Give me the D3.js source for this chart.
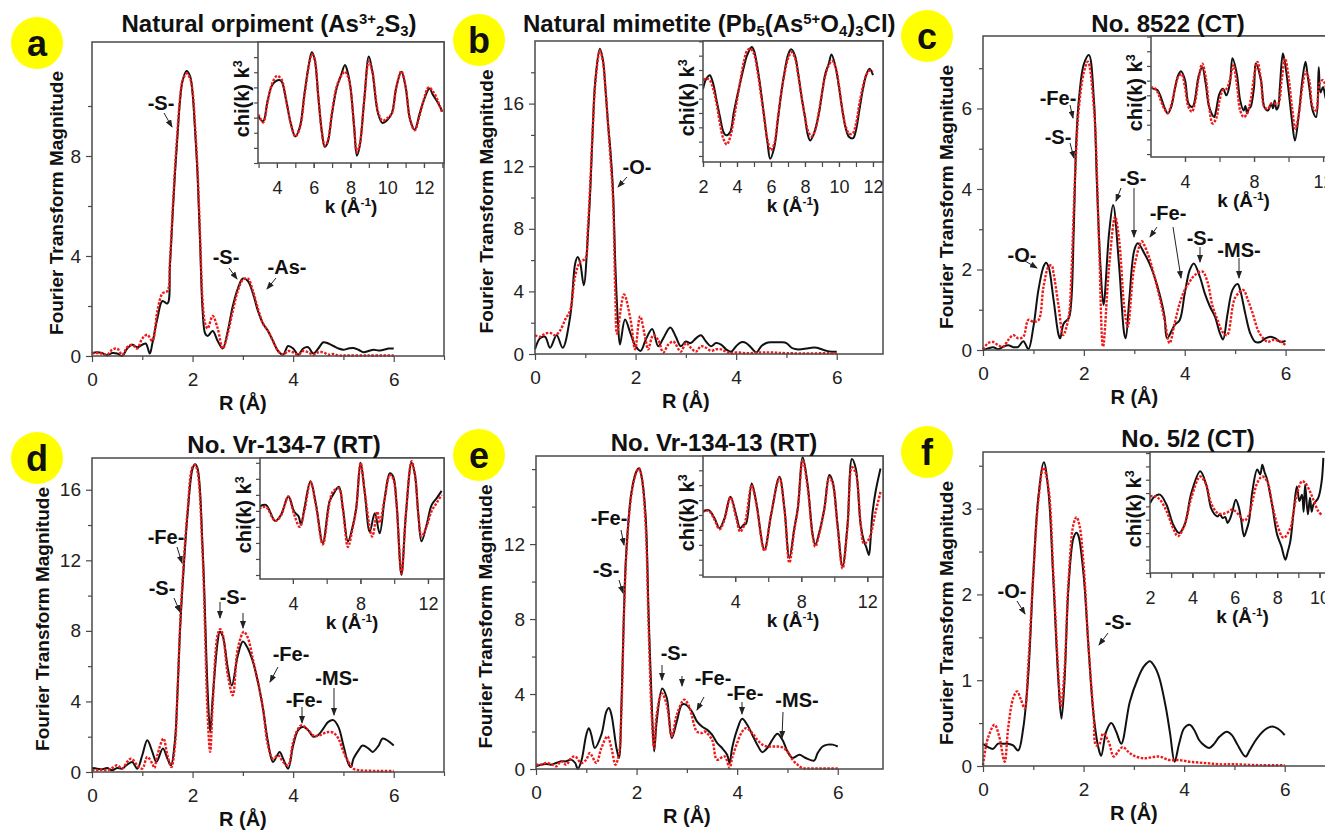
<!DOCTYPE html>
<meta charset="utf-8">
<style>
body { margin: 0; background: #fff; }
svg { display: block; font-family: Arial, "Liberation Sans", sans-serif; }
.frame { fill: none; stroke: #4a4a4a; stroke-width: 1.5px; }
.inset-bg { fill: #fff; }
.tick line { stroke: #4a4a4a; stroke-width: 1.2px; }
.exp { fill: none; stroke: #111; stroke-width: 2px; }
.fit { fill: none; stroke: #f01818; stroke-width: 2.4px; stroke-dasharray: 2.5,1.5; }
.lbl { font-weight: bold; fill: #111; }
.note { font-weight: bold; font-size: 20px; fill: #111; text-anchor: middle; }
.arrow { stroke: #222; stroke-width: 1px; }
</style>
<svg width="1325" height="830"></svg>
<script src="https://d3js.org/d3.v7.min.js"></script>
<script>

// ---- Fourier transform magnitude vs R (black = experiment, red = fit) ----
var orpimentExp = [[0,0.12],[0.1,0.15],[0.2,0.12],[0.3,0.03],[0.4,0.12],[0.5,0.1],[0.6,0.0],[0.7,0.3],[0.8,0.45],[0.9,0.35],[1.0,0.45],[1.07,0.5],[1.15,0.1],[1.2,0.5],[1.3,1.5],[1.4,2.2],[1.5,2.1],[1.55,3.6],[1.6,5.5],[1.65,7.3],[1.7,8.8],[1.75,10.2],[1.8,11.0],[1.88,11.4],[1.95,11.2],[2.0,10.5],[2.05,9.0],[2.1,7.2],[2.15,4.5],[2.2,1.8],[2.25,0.9],[2.3,0.8],[2.4,1.0],[2.5,0.6],[2.6,0.3],[2.7,1.0],[2.8,2.0],[2.9,2.7],[3.0,3.1],[3.1,3.0],[3.2,2.5],[3.3,1.8],[3.4,1.3],[3.5,1.0],[3.6,0.6],[3.7,0.2],[3.8,0.05],[3.9,0.4],[4.0,0.3],[4.1,0.05],[4.2,0.3],[4.3,0.35],[4.4,0.1],[4.5,0.3],[4.6,0.55],[4.7,0.5],[4.8,0.4],[4.9,0.3],[5.0,0.25],[5.1,0.3],[5.2,0.32],[5.3,0.25],[5.4,0.15],[5.5,0.2],[5.6,0.25],[5.7,0.22],[5.8,0.25],[5.9,0.3],[6.0,0.3]];
var orpimentFit = [[0,0.1],[0.1,0.12],[0.2,0.1],[0.3,0.05],[0.4,0.25],[0.5,0.3],[0.6,0.05],[0.7,0.35],[0.8,0.45],[0.9,0.3],[1.0,0.7],[1.1,0.85],[1.2,0.6],[1.3,1.8],[1.4,2.5],[1.5,2.6],[1.55,3.8],[1.6,5.7],[1.65,7.5],[1.7,9.0],[1.75,10.3],[1.8,11.0],[1.88,11.3],[1.95,11.1],[2.0,10.6],[2.05,9.2],[2.1,7.4],[2.15,4.8],[2.2,2.2],[2.25,1.3],[2.3,1.1],[2.4,1.6],[2.5,1.1],[2.6,0.3],[2.7,0.9],[2.8,1.8],[2.9,2.6],[3.0,3.05],[3.1,3.1],[3.2,2.6],[3.3,1.9],[3.4,1.3],[3.5,1.0],[3.6,0.6],[3.7,0.2],[3.8,0.05],[3.9,0.2],[4.0,0.15],[4.1,0.05],[4.2,0.2],[4.3,0.15],[4.4,0.05],[4.5,0.15],[4.6,0.15],[4.7,0.05],[4.8,0.08],[4.9,0.02],[5.0,0.02],[5.5,0.02],[6.0,0.02]];

var mimetiteExp = [[0,0.3],[0.1,1.0],[0.2,1.1],[0.3,0.4],[0.43,1.2],[0.55,0.4],[0.7,2.4],[0.8,5.8],[0.85,6.2],[0.9,5.8],[0.97,4.4],[1.05,7.5],[1.1,10.5],[1.15,14.5],[1.2,17.5],[1.29,19.5],[1.35,18.8],[1.4,17.0],[1.45,14.8],[1.5,13.0],[1.55,10.5],[1.6,5.5],[1.65,2.0],[1.69,0.6],[1.79,2.2],[1.9,1.3],[2.0,0.5],[2.1,0.2],[2.2,0.9],[2.33,1.6],[2.45,0.5],[2.55,1.0],[2.69,1.7],[2.8,1.1],[2.9,0.5],[3.0,0.8],[3.1,0.7],[3.2,1.0],[3.3,1.2],[3.4,0.8],[3.5,0.5],[3.6,0.7],[3.7,0.6],[3.8,0.3],[3.9,0.15],[4.0,0.5],[4.1,0.75],[4.2,0.7],[4.3,0.4],[4.4,0.1],[4.5,0.5],[4.6,0.7],[4.7,0.75],[4.8,0.75],[4.9,0.75],[5.0,0.7],[5.1,0.4],[5.2,0.3],[5.3,0.3],[5.4,0.35],[5.5,0.4],[5.6,0.4],[5.7,0.3],[5.8,0.2],[5.9,0.15],[6.0,0.15]];
var mimetiteFit = [[0,1.2],[0.1,1.1],[0.2,1.3],[0.3,1.35],[0.4,1.2],[0.5,1.5],[0.6,2.2],[0.7,2.8],[0.8,5.0],[0.9,5.9],[1.0,6.1],[1.05,8.0],[1.1,11.0],[1.15,14.5],[1.2,17.3],[1.29,19.4],[1.35,18.7],[1.4,17.0],[1.45,14.8],[1.5,12.5],[1.55,10.0],[1.6,3.5],[1.63,1.3],[1.77,3.8],[1.9,2.2],[1.99,0.3],[2.09,2.4],[2.2,0.9],[2.25,0.3],[2.35,1.2],[2.45,0.9],[2.55,0.1],[2.65,0.6],[2.75,0.8],[2.9,0.15],[3.0,0.7],[3.1,0.4],[3.2,0.15],[3.3,0.5],[3.4,0.4],[3.5,0.2],[3.6,0.3],[3.7,0.3],[3.8,0.15],[3.9,0.05],[4.0,0.1],[4.2,0.05],[4.5,0.1],[4.7,0.1],[5.0,0.05],[6.0,0.05]];

var ct8522Exp = [[0,0],[0.1,0.04],[0.2,0.07],[0.3,0.02],[0.4,0.08],[0.5,0.12],[0.6,0.07],[0.7,0.08],[0.8,0.22],[0.9,0.02],[1.0,0.58],[1.1,1.5],[1.2,2.07],[1.25,2.17],[1.3,2.07],[1.4,1.24],[1.5,0.37],[1.53,0.29],[1.6,0.66],[1.7,0.79],[1.75,1.2],[1.8,3.0],[1.85,5.2],[1.9,6.2],[2.0,7.1],[2.1,7.33],[2.2,6.2],[2.26,4.1],[2.33,2.07],[2.39,1.12],[2.5,2.9],[2.58,3.6],[2.7,2.07],[2.8,0.41],[2.83,0.29],[2.9,1.24],[3.0,2.48],[3.07,2.65],[3.2,2.4],[3.3,2.15],[3.4,1.82],[3.5,1.4],[3.6,0.83],[3.65,0.29],[3.8,0.62],[3.9,0.74],[4.0,1.4],[4.1,1.99],[4.18,2.15],[4.3,1.82],[4.4,1.4],[4.5,1.08],[4.6,0.83],[4.7,0.41],[4.76,0.26],[4.85,0.9],[4.95,1.5],[5.05,1.64],[5.1,1.49],[5.2,0.91],[5.3,0.41],[5.4,0.2],[5.5,0.2],[5.6,0.29],[5.7,0.33],[5.8,0.29],[5.9,0.2],[6.0,0.23]];
var ct8522Fit = [[0,0.02],[0.1,0.17],[0.2,0.2],[0.3,0.12],[0.4,0.08],[0.5,0.25],[0.6,0.37],[0.7,0.29],[0.8,0.33],[0.9,0.75],[1.0,0.7],[1.1,0.74],[1.2,1.57],[1.3,2.07],[1.36,2.1],[1.4,1.9],[1.5,1.08],[1.59,0.37],[1.7,0.83],[1.75,1.8],[1.8,3.5],[1.85,5.0],[1.9,6.0],[2.0,6.9],[2.08,7.16],[2.2,6.0],[2.3,2.7],[2.38,0.08],[2.5,2.07],[2.62,3.31],[2.7,2.73],[2.8,1.08],[2.87,0.58],[3.0,2.07],[3.15,2.7],[3.2,2.6],[3.3,2.28],[3.4,1.82],[3.5,1.32],[3.6,0.75],[3.7,0.17],[3.8,0.66],[3.9,1.16],[4.0,1.49],[4.1,1.7],[4.2,1.86],[4.35,1.95],[4.45,1.7],[4.55,1.1],[4.65,0.75],[4.75,0.45],[4.84,0.37],[5.0,1.3],[5.16,1.49],[5.25,1.25],[5.35,0.9],[5.45,0.5],[5.55,0.3],[5.65,0.2],[5.75,0.25],[5.85,0.23],[5.95,0.17],[6.0,0.12]];

var vr1347Exp = [[0,0.23],[0.1,0.19],[0.2,0.15],[0.3,0.23],[0.4,0.1],[0.5,0.23],[0.6,0.19],[0.7,0.42],[0.8,0.57],[0.9,0.19],[1.0,0.95],[1.1,1.8],[1.2,1.14],[1.28,0.57],[1.41,1.33],[1.5,0.76],[1.57,0.38],[1.65,1.8],[1.7,4.5],[1.75,8.0],[1.8,10.5],[1.9,14.6],[2.0,17.2],[2.05,17.45],[2.1,17.2],[2.2,12.7],[2.3,4.6],[2.35,2.27],[2.4,4.2],[2.5,7.4],[2.54,7.95],[2.6,7.7],[2.7,5.9],[2.78,4.9],[2.9,6.6],[3.0,7.4],[3.1,7.0],[3.2,6.25],[3.3,5.1],[3.4,3.6],[3.5,1.7],[3.6,0.57],[3.73,1.14],[3.8,0.76],[3.9,0.19],[4.0,1.5],[4.1,2.37],[4.2,2.56],[4.3,2.37],[4.4,2.0],[4.5,2.1],[4.6,2.46],[4.7,2.84],[4.8,2.94],[4.9,2.56],[5.0,1.5],[5.1,0.47],[5.15,0.28],[5.2,0.76],[5.3,1.23],[5.38,1.5],[5.5,1.33],[5.58,1.14],[5.7,1.5],[5.78,1.9],[5.9,1.74],[6.0,1.5]];
var vr1347Fit = [[0,0.1],[0.1,0.1],[0.2,0.13],[0.3,0.1],[0.4,0.23],[0.5,0.38],[0.6,0.19],[0.7,0.57],[0.78,0.76],[0.9,0.38],[1.0,0.19],[1.1,0.85],[1.2,0.47],[1.24,0.23],[1.3,0.95],[1.42,1.9],[1.5,0.95],[1.58,0.28],[1.65,1.5],[1.7,4.5],[1.75,8.2],[1.8,10.8],[1.9,14.8],[2.0,17.3],[2.05,17.4],[2.1,17.0],[2.2,12.3],[2.3,3.2],[2.35,1.14],[2.4,3.8],[2.5,7.8],[2.55,8.1],[2.6,7.8],[2.7,5.5],[2.8,4.35],[2.9,7.0],[3.02,7.95],[3.1,7.6],[3.2,6.4],[3.3,5.1],[3.4,3.6],[3.5,1.5],[3.6,0.76],[3.7,0.95],[3.8,0.57],[3.9,0.38],[4.0,1.7],[4.1,2.46],[4.17,2.65],[4.3,2.37],[4.4,2.08],[4.5,2.05],[4.6,2.18],[4.7,2.27],[4.8,2.23],[4.9,1.9],[5.0,1.14],[5.1,0.57],[5.2,0.19],[5.3,0.1],[5.4,0.08],[5.7,0.06],[6.0,0.06]];

var vr13413Exp = [[0,0.14],[0.1,0.23],[0.2,0.27],[0.3,0.23],[0.4,0.32],[0.5,0.41],[0.6,0.41],[0.7,0.5],[0.78,0.32],[0.83,0],[0.9,0.41],[1.0,1.83],[1.05,2.18],[1.1,1.83],[1.17,1.12],[1.3,1.83],[1.4,3.07],[1.45,3.25],[1.5,2.9],[1.6,1.12],[1.65,0.59],[1.7,3.5],[1.75,8.5],[1.8,11.8],[1.9,14.8],[2.0,15.9],[2.05,16.04],[2.1,15.6],[2.18,13.5],[2.24,8.2],[2.31,2.9],[2.35,0.94],[2.4,2.54],[2.51,4.3],[2.6,3.8],[2.7,1.65],[2.8,2.54],[2.9,3.43],[2.97,3.45],[3.1,3.07],[3.2,2.54],[3.3,2.27],[3.4,2.1],[3.5,1.83],[3.6,1.39],[3.7,1.12],[3.8,0.76],[3.85,0.32],[3.9,1.12],[4.0,2.1],[4.1,2.68],[4.2,2.36],[4.3,1.83],[4.4,1.3],[4.5,0.9],[4.6,1.12],[4.7,1.56],[4.8,1.88],[4.9,1.56],[5.0,0.94],[5.1,0.59],[5.24,0.76],[5.35,0.6],[5.53,0.45],[5.6,0.85],[5.7,1.2],[5.8,1.3],[5.9,1.3],[6.0,1.2]];
var vr13413Fit = [[0,0.23],[0.1,0.23],[0.2,0.32],[0.3,0.27],[0.4,0.14],[0.5,0.41],[0.6,0.23],[0.7,0.59],[0.78,0.67],[0.9,0.32],[1.0,0.5],[1.07,0.85],[1.2,0.32],[1.3,1.12],[1.42,1.74],[1.5,1.12],[1.58,0.23],[1.65,0.8],[1.7,3.2],[1.75,8.3],[1.8,11.6],[1.9,14.7],[2.0,15.86],[2.05,16.04],[2.1,15.6],[2.18,13.0],[2.24,7.5],[2.3,2.9],[2.35,1.12],[2.4,2.9],[2.5,4.05],[2.6,3.43],[2.7,1.74],[2.8,2.9],[2.95,3.7],[3.05,3.3],[3.2,2.0],[3.3,1.92],[3.35,2.0],[3.5,1.56],[3.6,0.5],[3.75,0.67],[3.85,0.05],[3.9,0.59],[4.0,1.39],[4.1,2.0],[4.18,2.18],[4.3,1.92],[4.4,1.56],[4.5,1.3],[4.6,1.2],[4.7,1.2],[4.8,1.2],[4.9,1.15],[5.0,0.94],[5.1,0.5],[5.2,0.23],[5.3,0.05],[5.5,0.03],[6.0,0.03]];

var no52Exp = [[0,0.26],[0.1,0.22],[0.2,0.2],[0.3,0.26],[0.4,0.26],[0.5,0.26],[0.6,0.24],[0.7,0.18],[0.8,0.44],[0.9,1.06],[1.0,2.23],[1.1,3.13],[1.21,3.54],[1.3,3.21],[1.4,2.15],[1.5,0.98],[1.56,0.55],[1.62,0.98],[1.7,2.08],[1.8,2.66],[1.86,2.72],[1.9,2.68],[2.0,2.23],[2.1,1.37],[2.2,0.59],[2.3,0.2],[2.35,0.12],[2.45,0.4],[2.55,0.5],[2.65,0.4],[2.75,0.26],[2.92,0.75],[3.08,1.02],[3.2,1.16],[3.32,1.22],[3.42,1.15],[3.51,1.02],[3.64,0.67],[3.72,0.38],[3.81,0.05],[3.9,0.26],[4.0,0.44],[4.11,0.48],[4.2,0.42],[4.3,0.3],[4.4,0.24],[4.5,0.21],[4.6,0.26],[4.7,0.34],[4.85,0.4],[4.95,0.36],[5.05,0.26],[5.22,0.11],[5.3,0.18],[5.4,0.28],[5.5,0.36],[5.6,0.42],[5.75,0.46],[5.9,0.42],[6.0,0.36]];
var no52Fit = [[0,0.01],[0.1,0.33],[0.23,0.48],[0.32,0.35],[0.43,0.05],[0.5,0.44],[0.6,0.79],[0.68,0.87],[0.75,0.78],[0.83,0.67],[0.9,1.18],[1.0,2.23],[1.1,3.09],[1.2,3.48],[1.3,3.25],[1.4,2.23],[1.5,1.06],[1.55,0.69],[1.62,1.1],[1.7,2.15],[1.8,2.82],[1.86,2.9],[1.92,2.8],[2.0,2.35],[2.1,1.37],[2.2,0.59],[2.25,0.24],[2.32,0.26],[2.39,0.38],[2.5,0.28],[2.6,0.11],[2.7,0.18],[2.78,0.22],[2.9,0.16],[3.0,0.12],[3.2,0.09],[3.5,0.11],[3.7,0.07],[3.9,0.07],[4.1,0.05],[4.3,0.04],[4.5,0.03],[4.7,0.02],[5.0,0.02],[5.5,0.01],[6.0,0.01]];

// ---- inset chi(k) k^3 vs k ----
var orpimentChiExp = [[3.0,-2.3],[3.25,-3.1],[3.5,0.4],[3.75,2.9],[4.1,3.7],[4.25,3.5],[4.5,0.4],[4.75,-3.4],[5.0,-5.6],[5.25,-4],[5.5,1.5],[5.75,6.5],[5.9,8.3],[6.05,7.2],[6.25,1],[6.45,-5],[6.6,-7.3],[6.75,-6.7],[7.0,-1.8],[7.25,2.4],[7.5,4.6],[7.7,6.2],[7.85,5.0],[8.0,2.6],[8.2,-4],[8.35,-8.8],[8.5,-7.3],[8.75,0.4],[9.0,7.6],[9.2,5.0],[9.5,-1.8],[9.75,-3.4],[10.0,-2.9],[10.25,-1.8],[10.5,2.6],[10.77,5.1],[11.0,2.6],[11.25,-2.9],[11.5,-4.5],[11.75,-2],[12.0,0.4],[12.3,2.3],[12.5,1.2],[12.75,0],[13.0,-1.5]];
var orpimentChiFit = [[3.0,-2.0],[3.25,-3.3],[3.5,0.2],[3.75,3.2],[4.0,4.4],[4.25,3.8],[4.5,0.4],[4.75,-3.4],[5.0,-5.6],[5.25,-4.2],[5.5,1.2],[5.75,6.3],[5.9,8.0],[6.05,7.2],[6.25,1],[6.45,-5],[6.6,-7.1],[6.75,-6.5],[7.0,-1.5],[7.25,2.6],[7.5,4.4],[7.7,5.1],[7.85,4.4],[8.0,2.4],[8.2,-4],[8.35,-8.2],[8.5,-7.0],[8.75,0.4],[9.0,6.8],[9.2,5.0],[9.5,-1.5],[9.75,-3.0],[10.0,-2.6],[10.25,-1.8],[10.5,2.6],[10.77,5.2],[11.0,2.6],[11.25,-2.9],[11.5,-4.6],[11.75,-2.3],[12.0,0.6],[12.25,2.5],[12.5,1.8],[12.75,0.3],[13.0,-1.8]];

var mimetiteChiExp = [[2.0,1.7],[2.2,3.5],[2.4,4.1],[2.6,2.6],[2.8,-0.3],[3.0,-3.2],[3.2,-5.8],[3.35,-6.4],[3.6,-5.8],[3.8,-2.6],[4.0,0.3],[4.2,2.9],[4.4,5.5],[4.6,7.6],[4.87,9.0],[5.0,8.4],[5.2,5.5],[5.4,1.5],[5.6,-3.2],[5.8,-7.8],[5.95,-10.5],[6.2,-8.4],[6.4,-3.8],[6.6,0.9],[6.8,4.7],[7.0,7.6],[7.18,8.6],[7.4,7.6],[7.6,4.4],[7.8,0.3],[8.0,-3.2],[8.15,-6.1],[8.3,-7.3],[8.5,-6.3],[8.8,-2.9],[9.0,0.9],[9.2,4.4],[9.4,6.1],[9.56,7.7],[9.8,5.5],[10.0,2.0],[10.2,-2.0],[10.4,-5.2],[10.6,-6.7],[10.83,-6.9],[11.0,-5.5],[11.2,-2.0],[11.4,1.5],[11.6,4.1],[11.8,5.2],[12.0,4.1]];
var mimetiteChiFit = [[2.0,3.2],[2.2,3.5],[2.4,3.2],[2.6,1.7],[2.8,-0.9],[3.0,-4.4],[3.2,-7],[3.4,-8],[3.6,-6.7],[3.8,-3.8],[4.0,-0.3],[4.2,3.2],[4.4,6.4],[4.6,8.4],[4.8,8.7],[5.0,7.8],[5.2,4.9],[5.4,0.9],[5.6,-3.2],[5.8,-7.3],[6.0,-9],[6.2,-7.8],[6.4,-3.5],[6.6,0.9],[6.8,4.4],[7.0,7],[7.2,8.1],[7.4,7.2],[7.6,4.1],[7.8,0.3],[8.0,-3.2],[8.2,-5.8],[8.4,-6.6],[8.6,-5.5],[8.8,-2.6],[9.0,0.9],[9.2,4.1],[9.4,5.8],[9.6,6.6],[9.8,5.5],[10.0,2.3],[10.2,-2],[10.4,-4.9],[10.6,-6.1],[10.8,-6.1],[11.0,-4.4],[11.2,-0.9],[11.4,2.0],[11.6,4.1],[11.8,4.9],[12.0,4.7]];

var ct8522ChiExp = [[2.0,1.3],[2.2,1.1],[2.4,0.9],[2.6,-0.3],[2.8,-2.0],[3.0,-3.1],[3.2,-2],[3.4,0.9],[3.6,3.4],[3.77,4.1],[4.0,2.6],[4.2,-1.4],[4.4,-2.0],[4.5,-1.7],[4.6,-0.3],[4.8,3.4],[5.0,4.8],[5.2,2.0],[5.4,-2.0],[5.69,-3.7],[5.8,-2.6],[6.0,0.3],[6.2,1.1],[6.4,0],[6.6,2.0],[6.75,6.3],[7.0,3.7],[7.2,-0.9],[7.4,-2.6],[7.5,-1.8],[7.6,-3.1],[7.7,-2.2],[7.8,-2],[8.0,1.4],[8.1,5.4],[8.4,2.6],[8.6,-2],[8.8,-2.6],[9.0,-1.4],[9.1,-2.2],[9.2,-0.9],[9.3,-2.4],[9.4,-2],[9.5,1.5],[9.67,7.1],[9.8,5.4],[10.0,0.9],[10.2,-4.3],[10.37,-7.7],[10.6,-3.1],[10.8,2.6],[10.98,5.7],[11.1,3.5],[11.2,1.4],[11.4,-2.6],[11.6,-3.7],[11.75,4.8],[11.85,0.5],[12.0,1.4],[12.2,-0.9],[12.4,0.3]];
var ct8522ChiFit = [[2.0,1.3],[2.2,1.3],[2.4,0.6],[2.6,-0.9],[2.8,-2.3],[3.0,-3.0],[3.2,-1.7],[3.4,0.9],[3.6,3.1],[3.8,3.6],[4.0,1.4],[4.2,-2],[4.4,-2.8],[4.6,-0.9],[4.8,3.1],[5.0,5.4],[5.2,3.1],[5.4,-2],[5.6,-4.8],[5.8,-4],[6.0,-0.9],[6.2,0.9],[6.4,1.1],[6.6,2.6],[6.8,5.1],[7.0,2.0],[7.2,-2.6],[7.4,-3.7],[7.6,-3.1],[7.8,-0.9],[8.0,3.1],[8.2,5.7],[8.4,2.6],[8.6,-2],[8.8,-2.3],[9.0,-1.4],[9.2,-1.4],[9.4,-1.4],[9.6,2.6],[9.8,6.3],[10.0,3.1],[10.2,-2],[10.4,-5.7],[10.6,-3.1],[10.8,1.4],[11.0,4],[11.2,2.6],[11.4,-2],[11.6,-2.6],[11.8,2],[12.0,2.6],[12.2,0.9]];

var vr1347ChiExp = [[2.0,0.54],[2.4,0.75],[2.95,-1.25],[3.29,-0.5],[3.73,1.8],[4.08,-0.1],[4.34,-0.7],[4.48,-1.75],[4.68,0.33],[5.04,3.7],[5.37,0.75],[5.77,-4.0],[6.17,1.2],[6.37,2.0],[6.72,3.0],[6.96,0.33],[7.26,-3.8],[7.56,-1.75],[7.75,0.33],[8.01,6.0],[8.25,2.4],[8.55,-2.6],[8.85,-0.3],[9.14,-2.8],[9.44,1.6],[9.74,4.7],[9.94,4.3],[10.13,1.2],[10.43,-8.0],[10.69,-0.5],[11.03,6.0],[11.23,4.5],[11.43,-0.5],[11.62,-3.8],[11.92,-1.75],[12.22,0.75],[12.52,1.6],[12.81,2.5]];
var vr1347ChiFit = [[2.0,0.3],[2.4,0.5],[2.95,-1.25],[3.29,-0.6],[3.73,1.8],[4.08,-0.5],[4.4,-2.0],[4.68,0.0],[5.04,3.6],[5.37,0.6],[5.77,-4.2],[6.17,1.0],[6.37,2.4],[6.72,2.8],[6.96,0.2],[7.26,-4.5],[7.56,-1.9],[7.75,0.3],[8.01,6.0],[8.25,2.4],[8.7,-3.2],[9.0,-0.1],[9.14,-1.5],[9.44,1.6],[9.74,4.5],[9.94,4.0],[10.13,1.0],[10.43,-7.8],[10.69,-0.5],[11.03,6.2],[11.23,4.5],[11.43,-0.5],[11.62,-3.2],[11.92,-1.9],[12.22,0.0],[12.52,1.0],[12.81,2.0]];

var vr13413ChiExp = [[2.0,0.56],[2.4,0.83],[2.75,-0.56],[3.05,-2.2],[3.35,-0.56],[3.71,3.05],[4.06,0],[4.3,-2.2],[4.5,-1.7],[4.66,-1.4],[5.0,5.3],[5.27,2.2],[5.77,-5.8],[6.17,0],[6.68,6.4],[6.98,1.1],[7.28,-7.2],[7.58,-2.2],[7.79,1.1],[8.09,9.7],[8.39,5.0],[8.69,-3.3],[8.85,-5.0],[9.1,-2.8],[9.4,1.1],[9.7,6.7],[9.9,5.6],[10.2,-1.7],[10.5,-8.6],[10.8,-1.7],[11.07,9.4],[11.3,7.8],[11.6,-1.7],[11.8,-4.4],[11.95,-5.5],[12.1,-6.7],[12.2,-4],[12.3,0],[12.5,3.9],[12.8,7.8]];
var vr13413ChiFit = [[2.0,0.56],[2.4,0.7],[2.75,-0.8],[3.05,-2.4],[3.35,-0.8],[3.71,3.0],[4.06,-0.5],[4.3,-2.8],[4.5,-2.0],[4.66,-0.5],[5.0,5.0],[5.27,2.0],[5.77,-6.0],[6.17,0],[6.68,6.2],[6.98,1.0],[7.28,-8.0],[7.58,-2.5],[7.79,1.0],[8.09,9.2],[8.39,4.5],[8.69,-3.5],[8.85,-5.3],[9.1,-3.0],[9.4,1.0],[9.7,6.3],[9.9,5.3],[10.2,-2.0],[10.5,-9.0],[10.8,-2.0],[11.07,8.0],[11.3,7.0],[11.6,-1.5],[11.8,-4.8],[12.1,-4.0],[12.5,0.5],[12.8,3.9]];

var no52ChiExp = [[2.0,0.6],[2.23,1.9],[2.47,2.2],[2.78,0.3],[3.09,-3.4],[3.37,-5],[3.64,-3.4],[3.95,2.5],[4.37,6.6],[4.65,4.1],[4.88,-0.3],[5.05,-1.5],[5.19,-1.9],[5.3,-1.5],[5.43,-2.2],[5.55,-2.0],[5.66,-3.1],[5.78,-2.3],[5.89,-0.9],[6.05,1.25],[6.2,-0.3],[6.3,-2.5],[6.44,-5.6],[6.55,-4.5],[6.67,-2.8],[6.83,2.8],[7.06,6.9],[7.2,6.0],[7.3,7.8],[7.4,6.5],[7.53,5.0],[7.76,0.3],[8.0,-5.3],[8.2,-7.5],[8.39,-10],[8.5,-8.5],[8.62,-6.6],[8.78,-0.9],[8.93,3.75],[9.05,1.0],[9.17,2.2],[9.25,-1.0],[9.32,4.1],[9.45,-1.5],[9.55,1.6],[9.63,-1.0],[9.71,0.3],[9.94,1.6],[10.1,4.7],[10.18,9.1]];
var no52ChiFit = [[2.0,1.9],[2.23,1.9],[2.47,1.25],[2.78,-0.9],[3.09,-4.1],[3.32,-5.6],[3.64,-3.4],[3.95,1.6],[4.37,5.6],[4.65,4.1],[4.88,0.6],[5.19,-1.25],[5.43,-1.4],[5.66,-1.1],[5.89,-0.6],[6.2,-1.6],[6.44,-2.7],[6.67,-1.6],[6.83,0.9],[7.06,4.4],[7.3,5.6],[7.53,4.7],[7.76,0.6],[8.0,-3.4],[8.3,-5.9],[8.62,-4.1],[8.78,-0.9],[8.93,2.2],[9.17,4.7],[9.32,4.4],[9.55,2.8],[9.71,1.25],[9.94,-0.9],[10.1,-1.6]];

// ---- tick labels ----
var rTicks = [0, 2, 4, 6];
var rMinorTicks = [1, 3, 5, 7];

// layout of each panel (pixel boxes, domains, annotations)
var panels = [
  { letter: "a", cx: 37, cy: 43, title: [["Natural orpiment (As"], ["3+", "sup"], ["2", "sub"], ["S"], ["3", "sub"], [")"]], tx: 269, ty: 32, anchor: "middle",
    L: 92, R: 444, T: 42, B: 356, xMax: 7, yMax: 12.56, yMajor: [0, 4, 8], yMinor: [2, 6, 10], yLabelOff: 29,
    exp: orpimentExp, fit: orpimentFit,
    inset: { L: 258, B: 163, k: [2.97, 13.09], kMajor: [4, 6, 8, 10, 12], kTicks: [3, 4, 5, 6, 7, 8, 9, 10, 11, 12, 13], chi: [-10, 10], chiStep: 2.5, exp: orpimentChiExp, fit: orpimentChiFit },
    notes: [["-S-", 161, 110, [164, 113, 172, 127]], ["-S-", 226, 264, [229, 268, 237, 279]], ["-As-", 287, 274, [276, 278, 267, 289]]] },
  { letter: "b", cx: 479, cy: 40, title: [["Natural mimetite (Pb"], ["5", "sub"], ["(As"], ["5+", "sup"], ["O"], ["4", "sub"], [")"], ["3", "sub"], ["Cl)"]], tx: 523, ty: 32, anchor: "start",
    L: 535, R: 883, T: 41, B: 354, xMax: 6.92, yMax: 20, yMajor: [0, 4, 8, 12, 16], yMinor: [2, 6, 10, 14, 18], yLabelOff: 42,
    exp: mimetiteExp, fit: mimetiteFit,
    inset: { L: 703, B: 162, k: [2, 12.59], kMajor: [2, 4, 6, 8, 10, 12], kTicks: [2, 3, 4, 5, 6, 7, 8, 9, 10, 11, 12], chi: [-11.05, 10.06], chiStep: 2.5, exp: mimetiteChiExp, fit: mimetiteChiFit },
    notes: [["-O-", 637, 174, [627, 177, 618, 187]]] },
  { letter: "c", cx: 927, cy: 36, title: [["No. 8522 (CT)"]], tx: 1168, ty: 32, anchor: "middle",
    L: 983, R: 1336, T: 36, B: 350, xMax: 7, yMax: 7.8, yMajor: [0, 2, 4, 6], yMinor: [1, 3, 5, 7], yLabelOff: 30,
    exp: ct8522Exp, fit: ct8522Fit,
    inset: { L: 1151, B: 157, k: [2.03, 12.75], kMajor: [4, 8, 12], kTicks: [4, 6, 8, 10, 12], chi: [-10.5, 10.1], chiStep: 2.5, exp: ct8522ChiExp, fit: ct8522ChiFit },
    notes: [["-Fe-", 1058, 105, [1070, 105, 1073, 118]], ["-S-", 1058, 144, [1070, 143, 1074, 158]], ["-O-", 1022, 262, [1025, 261, 1037, 268]],
            ["-S-", 1133, 185, [1121, 188, 1116, 201], [1134, 188, 1134, 237]], ["-Fe-", 1168, 220, [1157, 227, 1150, 237], [1173, 227, 1181, 278]],
            ["-S-", 1200, 245, [1200, 247, 1200, 262]], ["-MS-", 1239, 257, [1239, 258, 1239, 278]]] },
  { letter: "d", cx: 37, cy: 458, title: [["No. Vr-134-7 (RT)"]], tx: 284, ty: 453, anchor: "middle",
    L: 92, R: 444, T: 458, B: 772, xMax: 7, yMax: 17.8, yMajor: [0, 4, 8, 12, 16], yMinor: [2, 6, 10, 14], yLabelOff: 43,
    exp: vr1347Exp, fit: vr1347Fit,
    inset: { L: 260, B: 579, k: [2.05, 12.95], kMajor: [4, 8, 12], kTicks: [4, 6, 8, 10, 12], chi: [-8.5, 6.6], chiStep: 2, exp: vr1347ChiExp, fit: vr1347ChiFit },
    notes: [["-Fe-", 166, 544, [177, 547, 182, 563]], ["-S-", 162, 595, [174, 598, 180, 612]], ["-S-", 233, 604, [220, 602, 220, 618], [243, 613, 243, 628]],
            ["-Fe-", 291, 661, [278, 667, 270, 682]], ["-MS-", 337, 685, [334, 688, 334, 715]], ["-Fe-", 304, 707, [302, 707, 302, 723]]] },
  { letter: "e", cx: 479, cy: 455, title: [["No. Vr-134-13 (RT)"]], tx: 714, ty: 451, anchor: "middle",
    L: 536, R: 883, T: 456, B: 769, xMax: 6.9, yMax: 16.7, yMajor: [0, 4, 8, 12], yMinor: [2, 6, 10, 14, 16], yLabelOff: 44,
    exp: vr13413Exp, fit: vr13413Fit,
    inset: { L: 703, B: 577, k: [2.05, 12.95], kMajor: [4, 8, 12], kTicks: [4, 6, 8, 10, 12], chi: [-10.4, 9.9], chiStep: 2.5, exp: vr13413ChiExp, fit: vr13413ChiFit },
    notes: [["-Fe-", 609, 525, [621, 530, 624, 545]], ["-S-", 606, 577, [619, 580, 623, 593]], ["-S-", 674, 660, [662, 665, 662, 680], [682, 676, 682, 686]],
            ["-Fe-", 713, 685, [704, 697, 697, 710]], ["-Fe-", 745, 700, [742, 702, 742, 714]], ["-MS-", 797, 707, [783, 712, 782, 738]]] },
  { letter: "f", cx: 927, cy: 452, title: [["No. 5/2 (CT)"]], tx: 1188, ty: 447, anchor: "middle",
    L: 983, R: 1335, T: 452, B: 766, xMax: 7, yMax: 3.66, yMajor: [0, 1, 2, 3], yMinor: [0.5, 1.5, 2.5, 3.5], yLabelOff: 30,
    exp: no52Exp, fit: no52Fit,
    inset: { L: 1150, B: 573, k: [2, 10.73], kMajor: [2, 4, 6, 8, 10], kTicks: [2, 3, 4, 5, 6, 7, 8, 9, 10], chi: [-12.5, 10.2], chiStep: 2.5, exp: no52ChiExp, fit: no52ChiFit },
    notes: [["-O-", 1012, 598, [1017, 601, 1025, 614]], ["-S-", 1118, 629, [1108, 633, 1099, 645]]] }
];

var svg = d3.select("svg");

svg.append("defs").append("marker")
    .attr("id", "head")
    .attr("markerUnits", "userSpaceOnUse")
    .attr("markerWidth", 8).attr("markerHeight", 6)
    .attr("refX", 7).attr("refY", 3)
    .attr("orient", "auto")
  .append("path")
    .attr("d", "M0,0 L8,3 L0,6 z")
    .attr("fill", "#222");

function richText(sel, parts, size) {
  parts.forEach(function(p) {
    var t = sel.append("tspan").text(p[0]);
    if (p[1] == "sup") t.attr("font-size", size * 0.62).attr("baseline-shift", "55%");
    if (p[1] == "sub") t.attr("font-size", size * 0.62).attr("baseline-shift", "-28%");
  });
}

// drop the axis line (the frame is drawn separately) and set the tick font
function styleAxis(size) {
  return function(g) {
    g.select(".domain").remove();
    g.attr("font-family", "Arial, 'Liberation Sans', sans-serif").attr("font-size", size);
    g.selectAll(".tick text").attr("fill", "#222");
  };
}

var line = function(x, y) {
  return d3.line()
      .x(function(d) { return x(d[0]); })
      .y(function(d) { return y(d[1]); })
      .curve(d3.curveCatmullRom.alpha(0.5));
};

panels.forEach(function(p, i) {
  var g = svg.append("g");

  var x = d3.scaleLinear().domain([0, p.xMax]).range([p.L, p.R]);
  var y = d3.scaleLinear().domain([0, p.yMax]).range([p.B, p.T]);

  // axes with outward ticks
  g.append("g").attr("transform", "translate(0," + p.B + ")")
      .call(d3.axisBottom(x).tickValues(rMinorTicks.filter(function(v) { return v <= p.xMax; })).tickSize(4).tickFormat(""))
      .call(styleAxis(19));
  g.append("g").attr("transform", "translate(0," + p.B + ")")
      .call(d3.axisBottom(x).tickValues(rTicks).tickSize(6).tickPadding(11).tickFormat(d3.format("d")))
      .call(styleAxis(19));
  g.append("g").attr("transform", "translate(" + p.L + ",0)")
      .call(d3.axisLeft(y).tickValues(p.yMinor).tickSize(4).tickFormat(""))
      .call(styleAxis(19));
  g.append("g").attr("transform", "translate(" + p.L + ",0)")
      .call(d3.axisLeft(y).tickValues(p.yMajor).tickSize(6).tickPadding(5).tickFormat(d3.format("d")))
      .call(styleAxis(19));

  g.append("path").datum(p.exp).attr("class", "exp").attr("d", line(x, y));
  g.append("path").datum(p.fit).attr("class", "fit").attr("d", line(x, y));

  g.append("rect").attr("class", "frame")
      .attr("x", p.L).attr("y", p.T).attr("width", p.R - p.L).attr("height", p.B - p.T);

  // axis titles
  g.append("text").attr("class", "lbl")
      .attr("x", x(3)).attr("y", p.B + 54)
      .attr("text-anchor", "middle").attr("font-size", 20)
      .text("R (Å)");
  g.append("text").attr("class", "lbl")
      .attr("transform", "translate(" + (p.L - p.yLabelOff) + "," + ((p.T + p.B) / 2 + 4) + ") rotate(-90)")
      .attr("text-anchor", "middle").attr("font-size", 19)
      .text("Fourier Transform Magnitude");

  // inset
  var n = p.inset;
  var kx = d3.scaleLinear().domain(n.k).range([n.L, p.R]);
  var cy = d3.scaleLinear().domain(n.chi).range([n.B, p.T]);
  var ig = g.append("g");
  ig.append("rect").attr("class", "inset-bg")
      .attr("x", n.L).attr("y", p.T).attr("width", p.R - n.L).attr("height", n.B - p.T);
  ig.append("clipPath").attr("id", "clip" + i)
    .append("rect").attr("x", n.L).attr("y", p.T).attr("width", p.R - n.L).attr("height", n.B - p.T);

  ig.append("g").attr("transform", "translate(0," + n.B + ")")
      .call(d3.axisBottom(kx).tickValues(n.kTicks).tickSize(5).tickFormat(""))
      .call(styleAxis(18));
  ig.append("g").attr("transform", "translate(0," + n.B + ")")
      .call(d3.axisBottom(kx).tickValues(n.kMajor).tickSize(5).tickPadding(13).tickFormat(d3.format("d")))
      .call(styleAxis(18));
  ig.append("g").attr("transform", "translate(" + n.L + ",0)")
      .call(d3.axisLeft(cy).tickValues(d3.range(Math.ceil(n.chi[0] / n.chiStep) * n.chiStep, n.chi[1], n.chiStep)).tickSize(4).tickFormat(""))
      .call(styleAxis(18));

  var clipped = ig.append("g").attr("clip-path", "url(#clip" + i + ")");
  clipped.append("path").datum(n.exp).attr("class", "exp").attr("d", line(kx, cy));
  clipped.append("path").datum(n.fit).attr("class", "fit").attr("d", line(kx, cy));

  ig.append("rect").attr("class", "frame")
      .attr("x", n.L).attr("y", p.T).attr("width", p.R - n.L).attr("height", n.B - p.T);

  var kl = ig.append("text").attr("class", "lbl")
      .attr("x", (n.L + p.R) / 2).attr("y", n.B + 50)
      .attr("text-anchor", "middle").attr("font-size", 19);
  richText(kl, [["k (Å"], ["-1", "sup"], [")"]], 19);
  var cl = ig.append("text").attr("class", "lbl")
      .attr("transform", "translate(" + (n.L - 9) + "," + (p.T + (n.B - p.T) * 0.47) + ") rotate(-90)")
      .attr("text-anchor", "middle").attr("font-size", 20);
  richText(cl, [["chi(k) k"], ["3", "sup"]], 20);

  // peak annotations
  p.notes.forEach(function(a) {
    g.append("text").attr("class", "note").attr("x", a[1]).attr("y", a[2]).text(a[0]);
    a.slice(3).forEach(function(s) {
      g.append("line").attr("class", "arrow")
          .attr("x1", s[0]).attr("y1", s[1]).attr("x2", s[2]).attr("y2", s[3])
          .attr("marker-end", "url(#head)");
    });
  });

  // title and panel letter
  var tt = g.append("text").attr("class", "lbl")
      .attr("x", p.tx).attr("y", p.ty)
      .attr("text-anchor", p.anchor).attr("font-size", 24);
  richText(tt, p.title, 24);

  g.append("circle").attr("cx", p.cx).attr("cy", p.cy).attr("r", 26).attr("fill", "#ffff00");
  g.append("text").attr("class", "lbl")
      .attr("x", p.cx).attr("y", p.cy).attr("dy", "0.36em")
      .attr("text-anchor", "middle").attr("font-size", 36)
      .text(p.letter);
});

</script>
